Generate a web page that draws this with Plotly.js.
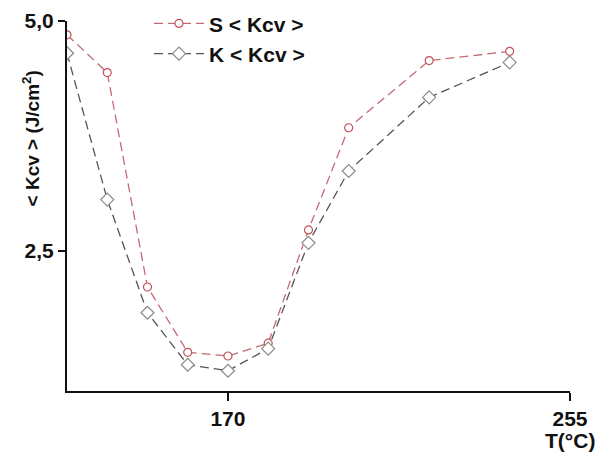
<!DOCTYPE html>
<html>
<head>
<meta charset="utf-8">
<script src="https://cdn.plot.ly/plotly-3.0.1.min.js"></script>
<style>html,body{margin:0;padding:0;background:#fff;}#chart{width:609px;height:455px;}</style>
</head>
<body>
<div id="chart"></div>
<script>
const temperatures = [130, 140, 150, 160, 170, 180, 190, 200, 220, 240];
const sKcv = [4.85, 4.44, 2.11, 1.40, 1.36, 1.50, 2.73, 3.84, 4.57, 4.67];
const kKcv = [4.65, 3.06, 1.83, 1.265, 1.20, 1.44, 2.59, 3.37, 4.17, 4.55];
const seriesNames = ['S &lt; Kcv &gt;', 'K &lt; Kcv &gt;'];
const xTickVals = [170, 255];
const xTickText = ['170', '255'];
const yTickVals = [2.5, 5.0];
const yTickText = ['2,5', '5,0'];

const FONT = 'Liberation Sans, Arial, sans-serif';

const traces = [
  {
    x: temperatures, y: sKcv, name: seriesNames[0], type: 'scatter', mode: 'lines+markers',
    line: {color: '#c26a72', width: 1.3, dash: '9px,5px'},
    marker: {symbol: 'circle', size: 8, color: '#ffffff', line: {color: '#c4505c', width: 1.2}}
  },
  {
    x: temperatures, y: kKcv, name: seriesNames[1], type: 'scatter', mode: 'lines+markers',
    line: {color: '#555555', width: 1.3, dash: '9px,5px'},
    marker: {symbol: 'diamond', size: 10, color: '#ffffff', line: {color: '#8a8a8a', width: 1.2}}
  }
];

const layout = {
  width: 609, height: 455,
  margin: {l: 67, r: 39, t: 21, b: 64, autoexpand: false},
  paper_bgcolor: '#ffffff', plot_bgcolor: '#ffffff',
  showlegend: true,
  legend: {x: 0.163, y: 1.048, xanchor: 'left', yanchor: 'top', bgcolor: 'rgba(0,0,0,0)',
    font: {family: FONT, size: 21, color: '#111', weight: 'bold'}, itemwidth: 50, tracegroupgap: 0},
  xaxis: {
    range: [130, 255], showline: true, linecolor: '#111', linewidth: 2, mirror: false,
    showgrid: false, zeroline: false, ticks: 'outside', ticklen: 8, tickwidth: 2, tickcolor: '#111',
    tickvals: xTickVals, ticktext: xTickText,
    tickfont: {family: FONT, size: 21, color: '#111', weight: 'bold'}
  },
  yaxis: {
    range: [0.98, 5.0], showline: true, linecolor: '#111', linewidth: 2, mirror: false,
    showgrid: false, zeroline: false, ticks: 'outside', ticklen: 7, tickwidth: 2, tickcolor: '#111',
    tickvals: yTickVals, ticktext: yTickText,
    tickfont: {family: FONT, size: 21, color: '#111', weight: 'bold'}
  },
  annotations: [
    {text: '&lt; Kcv &gt; (J/cm<sup>2</sup>)', textangle: -90, xref: 'paper', yref: 'paper',
     x: -0.072, y: 0.682, xanchor: 'center', yanchor: 'middle', showarrow: false,
     font: {family: FONT, size: 19, color: '#111', weight: 'bold'}},
    {text: 'T(°C)', xref: 'paper', yref: 'paper', x: 1.0, y: -0.135, xanchor: 'center', yanchor: 'middle',
     showarrow: false, font: {family: FONT, size: 21, color: '#111', weight: 'bold'}}
  ]
};

Plotly.newPlot('chart', traces, layout, {displayModeBar: false, staticPlot: true});
</script>
</body>
</html>
